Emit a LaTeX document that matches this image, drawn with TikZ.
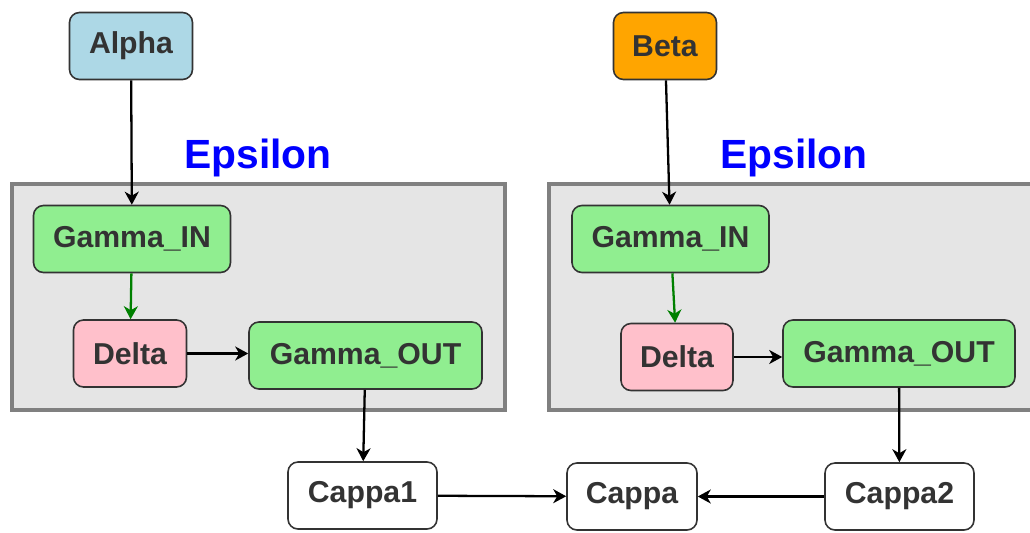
\documentclass[tikz,border=0pt]{standalone}
\usepackage{fontspec}
\setmainfont{Liberation Sans}
\usepackage{xcolor}
\definecolor{alphablue}{HTML}{ADD8E6}
\definecolor{betaorange}{HTML}{FFA500}
\definecolor{gammagreen}{HTML}{90EE90}
\definecolor{deltapink}{HTML}{FFC0CB}
\definecolor{clustergray}{HTML}{E5E5E5}
\definecolor{clusterline}{HTML}{808080}
\definecolor{textgray}{HTML}{333333}
\usepackage{tikz}
\usetikzlibrary{shapes,arrows,arrows.meta,positioning}

\begin{document}
\begin{tikzpicture}[
        box/.style={rectangle, rounded corners=0.2cm, draw=textgray, line width=0.9pt, fill=white, minimum height=1.34cm, inner sep=0pt, align=center, text=textgray, font=\fontsize{17.2}{19}\selectfont\bfseries},
        bluebox/.style={box, fill=alphablue},
        orangebox/.style={box, fill=betaorange},
        greenbox/.style={box, fill=gammagreen},
        pinkbox/.style={box, fill=deltapink},
        cluster/.style={draw=clusterline, fill=clustergray, line width=2.3pt},
        title/.style={text=blue, font=\fontsize{23.2}{26}\selectfont\bfseries},
        arrow/.style={-{Stealth[length=2.6mm, width=2.8mm, inset=0.8mm]}, line width=1.3pt}
    ]

        \clip (0,0) rectangle (20.6,10.64);

        % Clusters
        \draw[cluster] (0.24,2.44) rectangle (10.10,6.96);
        \draw[cluster] (10.98,2.44) rectangle (21.2,6.96);
        \node[title] (eps1) at (5.16,7.48) {Epsilon};
        \node[title] (eps2) at (15.88,7.48) {Epsilon};

        % Sources
        \node[bluebox, minimum width=2.46cm] (alpha) at (2.62,9.72) {Alpha};
        \node[orangebox, minimum width=2.06cm] (beta) at (13.30,9.72) {Beta};

        % Left cluster
        \node[greenbox, minimum width=3.94cm] (gin1) at (2.64,5.86) {Gamma\_IN};
        \node[pinkbox, minimum width=2.26cm] (delta1) at (2.60,3.57) {Delta};
        \node[greenbox, minimum width=4.66cm] (gout1) at (7.31,3.53) {Gamma\_OUT};

        % Right cluster
        \node[greenbox, minimum width=3.94cm] (gin2) at (13.41,5.86) {Gamma\_IN};
        \node[pinkbox, minimum width=2.24cm] (delta2) at (13.54,3.50) {Delta};
        \node[greenbox, minimum width=4.64cm] (gout2) at (17.98,3.57) {Gamma\_OUT};

        % Sinks
        \node[box, minimum width=2.98cm] (cappa1) at (7.25,0.73) {Cappa1};
        \node[box, minimum width=2.60cm] (cappa) at (12.64,0.71) {Cappa};
        \node[box, minimum width=2.98cm] (cappa2) at (17.99,0.71) {Cappa2};

        % Arrows
        \draw[arrow] (alpha) -- (gin1);
        \draw[arrow] (beta) -- (gin2);
        \draw[arrow, green!50!black] (gin1) -- (delta1);
        \draw[arrow, green!50!black] (gin2) -- (delta2);
        \draw[arrow] (delta1.east) -- (delta1.east -| gout1.west);
        \draw[arrow] (delta2.east) -- (delta2.east -| gout2.west);
        \draw[arrow] (gout1) -- (cappa1);
        \draw[arrow] (gout2) -- (cappa2);
        \draw[arrow] (cappa1) -- (cappa);
        \draw[arrow] (cappa2) -- (cappa);

    \end{tikzpicture}
\end{document}
